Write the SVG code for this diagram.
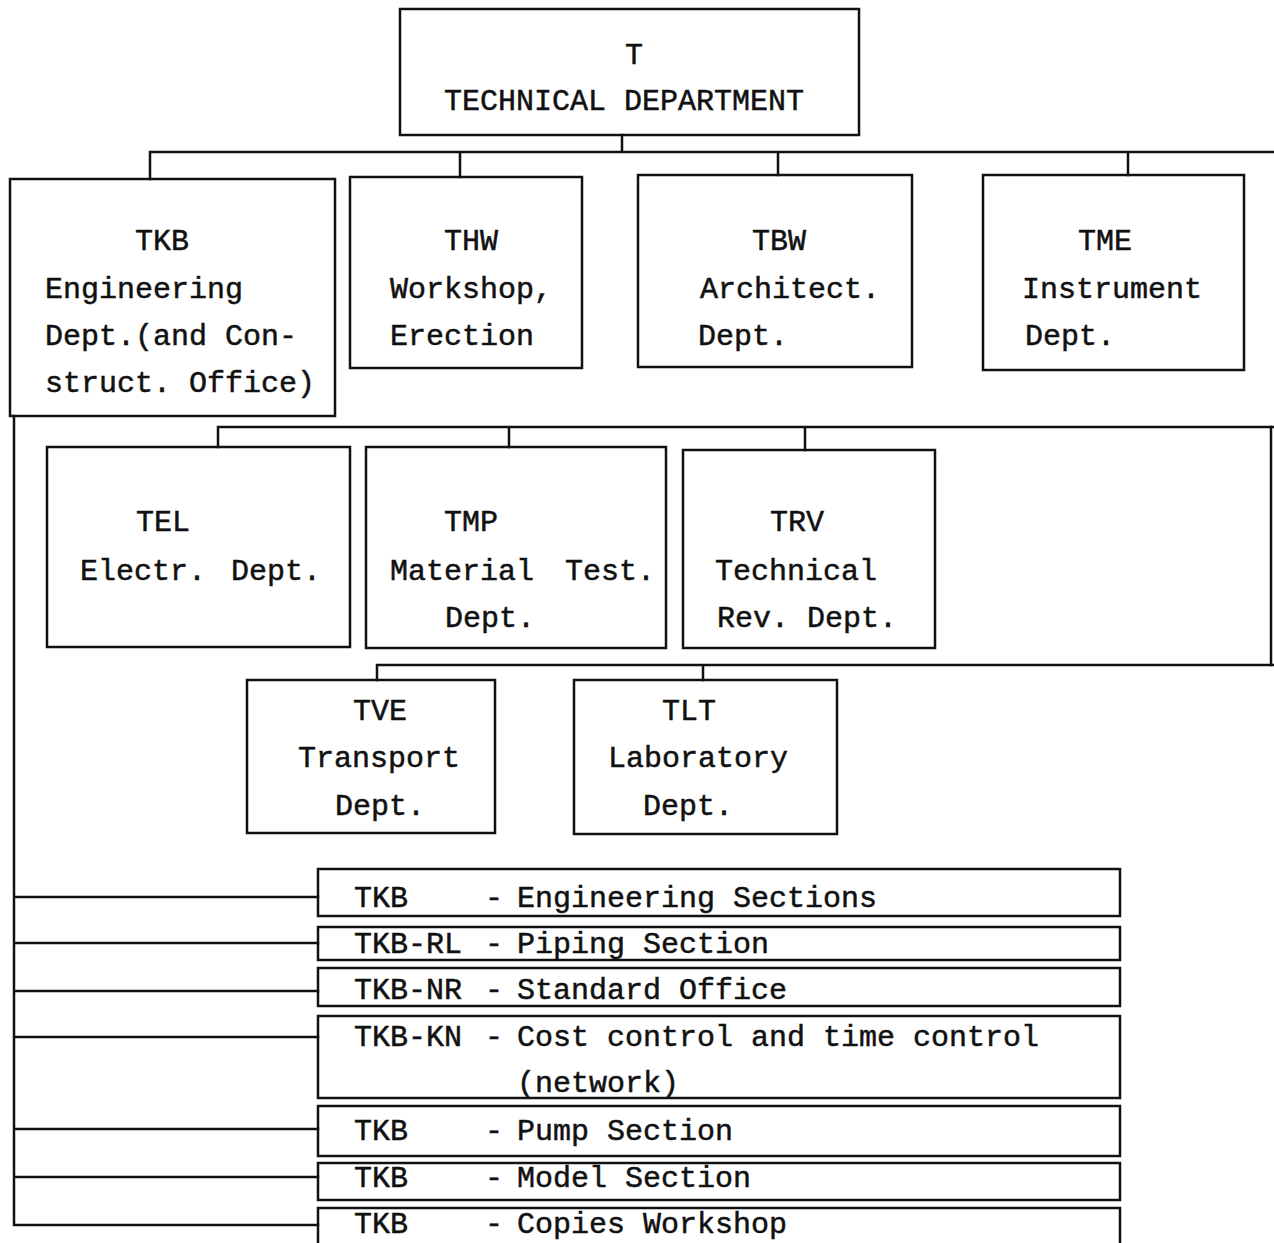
<svg xmlns="http://www.w3.org/2000/svg" width="1274" height="1243" viewBox="0 0 1274 1243">
  <style>
    .box { fill: none; stroke: #111; stroke-width: 2.5; }
    .wire { fill: none; stroke: #111; stroke-width: 2.5; stroke-linecap: square; }
    text { font-family: "Liberation Mono", "Courier New", monospace; font-size: 30px; fill: #111; stroke: #111; stroke-width: 0.5; }
    .mid { text-anchor: middle; }
  </style>
  <rect width="1274" height="1243" fill="#fff"/>

  <!-- connectors -->
  <g id="connectors">
    <path class="wire" d="M622 135 V152 M150 152 H1276 M150 152 V179 M460 152 V177 M778 152 V175 M1128 152 V175"/>
    <path class="wire" d="M1271 427 V665"/>
    <path class="wire" d="M218 427 H1276 M218 427 V447 M509 427 V447 M805 427 V450"/>
    <path class="wire" d="M377 665 H1276 M377 665 V680 M703 665 V680"/>
    <path class="wire" d="M14 416 V1225 M14 897 H318 M14 943 H318 M14 991 H318 M14 1037 H318 M14 1129 H318 M14 1177 H318 M14 1225 H318"/>
  </g>

  <!-- head of department -->
  <g id="T">
    <rect class="box" x="400" y="9" width="459" height="126"/>
    <text class="mid" x="634" y="64">T</text>
    <text x="444" y="110">TECHNICAL DEPARTMENT</text>
  </g>

  <!-- first row -->
  <g id="TKB">
    <rect class="box" x="10" y="179" width="325" height="237"/>
    <text x="135" y="250">TKB</text>
    <text x="45" y="298">Engineering</text>
    <text x="45" y="345">Dept.(and Con-</text>
    <text x="45" y="392">struct. Office)</text>
  </g>
  <g id="THW">
    <rect class="box" x="350" y="177" width="232" height="191"/>
    <text x="444" y="250">THW</text>
    <text x="390" y="298">Workshop,</text>
    <text x="390" y="345">Erection</text>
  </g>
  <g id="TBW">
    <rect class="box" x="638" y="175" width="274" height="192"/>
    <text x="752" y="250">TBW</text>
    <text x="700" y="298">Architect.</text>
    <text x="698" y="345">Dept.</text>
  </g>
  <g id="TME">
    <rect class="box" x="983" y="175" width="261" height="195"/>
    <text x="1078" y="250">TME</text>
    <text x="1022" y="298">Instrument</text>
    <text x="1025" y="345">Dept.</text>
  </g>

  <!-- second row -->
  <g id="TEL">
    <rect class="box" x="47" y="447" width="303" height="200"/>
    <text x="136" y="531">TEL</text>
    <text x="80" y="580">Electr.</text>
    <text x="231" y="580">Dept.</text>
  </g>
  <g id="TMP">
    <rect class="box" x="366" y="447" width="300" height="201"/>
    <text x="444" y="531">TMP</text>
    <text x="390" y="580">Material</text>
    <text x="565" y="580">Test.</text>
    <text x="445" y="627">Dept.</text>
  </g>
  <g id="TRV">
    <rect class="box" x="683" y="450" width="252" height="198"/>
    <text x="770" y="531">TRV</text>
    <text x="715" y="580">Technical</text>
    <text x="717" y="627">Rev. Dept.</text>
  </g>

  <!-- third row -->
  <g id="TVE">
    <rect class="box" x="247" y="680" width="248" height="153"/>
    <text x="353" y="720">TVE</text>
    <text x="298" y="767">Transport</text>
    <text x="335" y="815">Dept.</text>
  </g>
  <g id="TLT">
    <rect class="box" x="574" y="680" width="263" height="154"/>
    <text x="662" y="720">TLT</text>
    <text x="608" y="767">Laboratory</text>
    <text x="643" y="815">Dept.</text>
  </g>

  <!-- sections of TKB -->
  <g id="TKB-sections">
    <rect class="box" x="318" y="869" width="802" height="47"/>
    <text x="354" y="907">TKB</text><text x="485" y="907">-</text><text x="517" y="907">Engineering Sections</text>
  </g>
  <g id="TKB-RL">
    <rect class="box" x="318" y="927" width="802" height="33"/>
    <text x="354" y="953">TKB-RL</text><text x="485" y="953">-</text><text x="517" y="953">Piping Section</text>
  </g>
  <g id="TKB-NR">
    <rect class="box" x="318" y="968" width="802" height="38"/>
    <text x="354" y="999">TKB-NR</text><text x="485" y="999">-</text><text x="517" y="999">Standard Office</text>
  </g>
  <g id="TKB-KN">
    <rect class="box" x="318" y="1016" width="802" height="82"/>
    <text x="354" y="1046">TKB-KN</text><text x="485" y="1046">-</text><text x="517" y="1046">Cost control and time control</text>
    <text x="517" y="1092">(network)</text>
  </g>
  <g id="TKB-pump">
    <rect class="box" x="318" y="1106" width="802" height="50"/>
    <text x="354" y="1140">TKB</text><text x="485" y="1140">-</text><text x="517" y="1140">Pump Section</text>
  </g>
  <g id="TKB-model">
    <rect class="box" x="318" y="1163" width="802" height="37"/>
    <text x="354" y="1187">TKB</text><text x="485" y="1187">-</text><text x="517" y="1187">Model Section</text>
  </g>
  <g id="TKB-copies">
    <rect class="box" x="318" y="1208" width="802" height="60"/>
    <text x="354" y="1233">TKB</text><text x="485" y="1233">-</text><text x="517" y="1233">Copies Workshop</text>
  </g>
</svg>
